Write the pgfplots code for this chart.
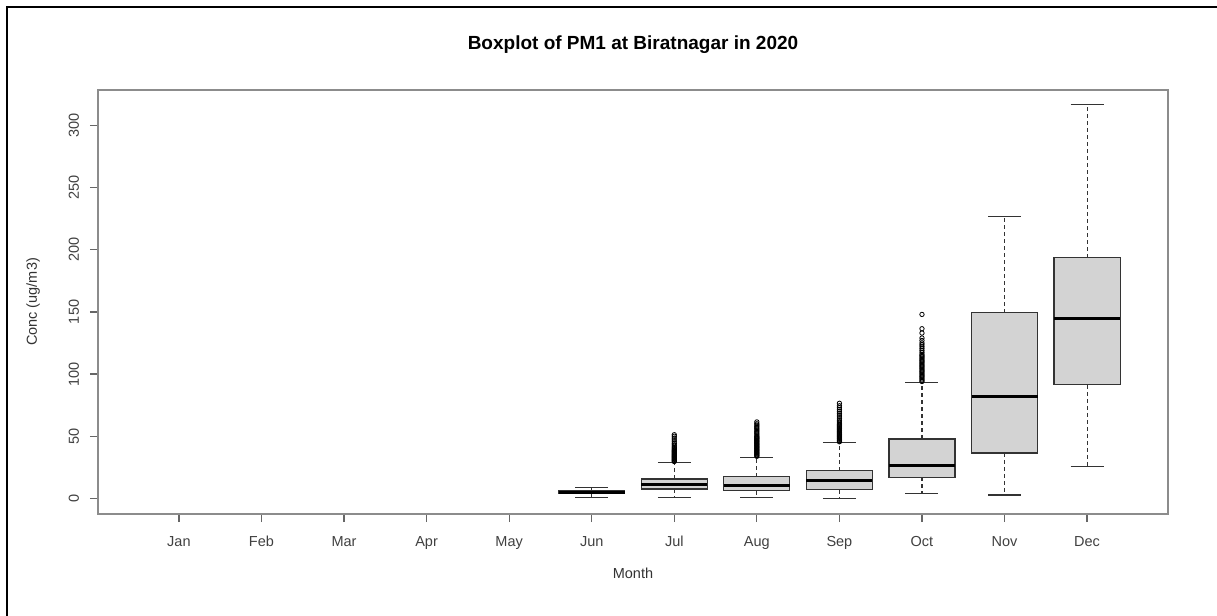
\documentclass[border=0pt]{standalone}
\usepackage{fontspec}
\setmainfont{Liberation Sans}
\usepackage{pgfplots}
\pgfplotsset{compat=1.18}
\definecolor{boxfill}{RGB}{211,211,211}
\begin{document}
\begin{tikzpicture}
\useasboundingbox (0pt,0pt) rectangle (608.5pt,308pt);
\draw[line width=1pt] (3.5pt,0pt) -- (3.5pt,304.5pt) -- (608.5pt,304.5pt);
\begin{axis}[
  at={(49pt,51pt)}, anchor=south west,
  scale only axis, width=535pt, height=212pt,
  xmin=0.02, xmax=12.98, ymin=-12.6, ymax=328.6,
  unbounded coords=jump,
  axis line style={black!45, line width=0.75pt},
  xtick={1,2,3,4,5,6,7,8,9,10,11,12},
  xticklabels={Jan,Feb,Mar,Apr,May,Jun,Jul,Aug,Sep,Oct,Nov,Dec},
  ytick={0,50,100,150,200,250,300},
  tick align=outside, tick pos=left,
  major tick length=4pt,
  tick style={black!60, line width=0.6pt},
  ticklabel style={font=\fontsize{7.25}{8.5}\selectfont, text=black!75},
  xticklabel style={yshift=-3.5pt},
  yticklabel style={rotate=90, anchor=south, yshift=2pt},
  /pgf/number format/assume math mode=true,
  title={Boxplot of PM1 at Biratnagar in 2020},
  title style={at={(axis description cs:0.5,1.0778)}, anchor=center, yshift=0pt, font=\fontsize{9.5}{11}\selectfont\bfseries},
  xlabel={Month},
  xlabel style={at={(axis description cs:0.5,-0.14)}, anchor=center, font=\fontsize{7.25}{8.5}\selectfont, text=black!80},
  ylabel={Conc (ug/m3)},
  ylabel style={at={(axis description cs:-0.0607,0.5)}, anchor=center, font=\fontsize{7.25}{8.5}\selectfont, text=black!80},
]
% whiskers (dashed): quartile to whisker end
\addplot[black!80, line width=0.55pt, dash pattern=on 2pt off 1.5pt] coordinates {
(6,6.0)(6,9.0)(6,nan)(6,3.6)(6,1.0)(6,nan)
(7,15.5)(7,29.0)(7,nan)(7,7.5)(7,0.8)(7,nan)
(8,17.4)(8,33.0)(8,nan)(8,6.0)(8,0.8)(8,nan)
(9,22.2)(9,44.8)(9,nan)(9,6.9)(9,-0.4)(9,nan)
(10,47.8)(10,93.4)(10,nan)(10,16.9)(10,4.2)(10,nan)
(11,149.5)(11,226.9)(11,nan)(11,36.5)(11,2.7)(11,nan)
(12,193.6)(12,316.9)(12,nan)(12,91.3)(12,25.5)
};
% whisker caps
\addplot[black!80, line width=0.55pt] coordinates {
(5.8,9.0)(6.2,9.0)(6.2,nan)(5.8,1.0)(6.2,1.0)(6.2,nan)
(6.8,29.0)(7.2,29.0)(7.2,nan)(6.8,0.8)(7.2,0.8)(7.2,nan)
(7.8,33.0)(8.2,33.0)(8.2,nan)(7.8,0.8)(8.2,0.8)(8.2,nan)
(8.8,44.8)(9.2,44.8)(9.2,nan)(8.8,-0.4)(9.2,-0.4)(9.2,nan)
(9.8,93.4)(10.2,93.4)(10.2,nan)(9.8,4.2)(10.2,4.2)(10.2,nan)
(10.8,226.9)(11.2,226.9)(11.2,nan)(10.8,2.7)(11.2,2.7)(11.2,nan)
(11.8,316.9)(12.2,316.9)(12.2,nan)(11.8,25.5)(12.2,25.5)
};
% boxes: lower quartile to upper quartile
\addplot[draw=black!80, line width=0.6pt, fill=boxfill] coordinates {(5.6,3.6)(6.4,3.6)(6.4,6.0)(5.6,6.0)} --cycle;
\addplot[draw=black!80, line width=0.6pt, fill=boxfill] coordinates {(6.6,7.5)(7.4,7.5)(7.4,15.5)(6.6,15.5)} --cycle;
\addplot[draw=black!80, line width=0.6pt, fill=boxfill] coordinates {(7.6,6.0)(8.4,6.0)(8.4,17.4)(7.6,17.4)} --cycle;
\addplot[draw=black!80, line width=0.6pt, fill=boxfill] coordinates {(8.6,6.9)(9.4,6.9)(9.4,22.2)(8.6,22.2)} --cycle;
\addplot[draw=black!80, line width=0.6pt, fill=boxfill] coordinates {(9.6,16.9)(10.4,16.9)(10.4,47.8)(9.6,47.8)} --cycle;
\addplot[draw=black!80, line width=0.6pt, fill=boxfill] coordinates {(10.6,36.5)(11.4,36.5)(11.4,149.5)(10.6,149.5)} --cycle;
\addplot[draw=black!80, line width=0.6pt, fill=boxfill] coordinates {(11.6,91.3)(12.4,91.3)(12.4,193.6)(11.6,193.6)} --cycle;
% medians
\addplot[black, line width=1.5pt] coordinates {
(5.6,4.9)(6.4,4.9)(6.4,nan)
(6.6,11.5)(7.4,11.5)(7.4,nan)
(7.6,10.0)(8.4,10.0)(8.4,nan)
(8.6,14.2)(9.4,14.2)(9.4,nan)
(9.6,26.6)(10.4,26.6)(10.4,nan)
(10.6,82.0)(11.4,82.0)(11.4,nan)
(11.6,144.4)(12.4,144.4)
};
% outliers
\addplot[only marks, mark=o, mark size=1.1pt, mark options={black, line width=0.4pt}] coordinates {
(7,29.6)(7,30.2)(7,30.8)(7,31.4)(7,32)(7,32.6)(7,33.2)(7,33.8)(7,34.4)(7,35)(7,35.6)(7,36.2)(7,36.8)(7,37.4)(7,38)(7,38.6)(7,39.2)(7,40)(7,41)(7,42)(7,43)(7,44.2)(7,45.5)(7,47)(7,48.5)(7,50)(7,51.2)
(8,33.8)(8,34.4)(8,35)(8,35.6)(8,36.2)(8,36.8)(8,37.4)(8,38)(8,38.6)(8,39.2)(8,39.8)(8,40.4)(8,41)(8,41.6)(8,42.2)(8,42.8)(8,43.4)(8,44)(8,44.6)(8,45.2)(8,45.8)(8,46.4)(8,47)(8,47.6)(8,48.2)(8,48.8)(8,49.4)(8,50)(8,51)(8,52)(8,53)(8,54)(8,55)(8,56)(8,57)(8,58)(8,59)(8,60)(8,61.5)
(9,45.5)(9,46.2)(9,46.9)(9,47.6)(9,48.3)(9,49)(9,49.7)(9,50.4)(9,51.1)(9,51.8)(9,52.5)(9,53.2)(9,53.9)(9,54.6)(9,55.3)(9,56)(9,56.7)(9,57.4)(9,58.1)(9,58.8)(9,59.5)(9,60.5)(9,61.5)(9,62.5)(9,64)(9,65.5)(9,67)(9,68.5)(9,70)(9,71.5)(9,73)(9,74.5)(9,76.5)
(10,94)(10,95)(10,96)(10,97)(10,98)(10,99)(10,100)(10,101)(10,102)(10,103)(10,104)(10,105)(10,106)(10,107)(10,108)(10,109)(10,110)(10,111)(10,112)(10,113)(10,114)(10,115)(10,116)(10,117.5)(10,119)(10,120.5)(10,122)(10,123.5)(10,125)(10,127)(10,129)(10,133)(10,136.5)(10,148)
};
\end{axis}
\end{tikzpicture}
\end{document}
